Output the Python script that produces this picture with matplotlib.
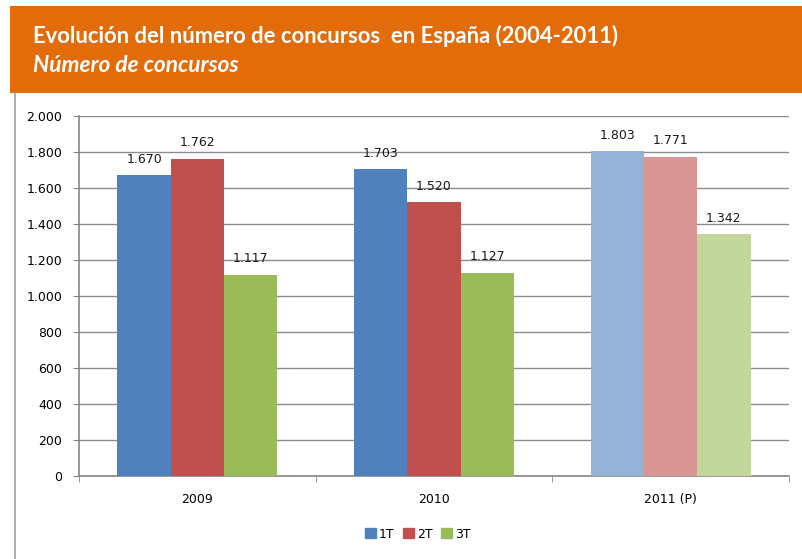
import matplotlib
matplotlib.use("Agg")
import matplotlib.pyplot as plt
import numpy as np
from matplotlib.patches import Rectangle
from matplotlib.lines import Line2D

categories = ["2009", "2010", "2011 (P)"]
series_names = ["1T", "2T", "3T"]
t1 = [1670, 1703, 1803]
t2 = [1762, 1520, 1771]
t3 = [1117, 1127, 1342]
yticks = [0, 200, 400, 600, 800, 1000, 1200, 1400, 1600, 1800, 2000]

base_colors = ["#4F81BD", "#C0504D", "#9BBB59"]
light_colors = ["#95B3D7", "#D99694", "#C3D69B"]

W, H = 802, 559
fig = plt.figure(figsize=(W / 100, H / 100), dpi=100)
fig.patch.set_facecolor("white")

# Header band
fig.patches.append(Rectangle((10 / W, 1 - 93 / H), (W - 10) / W, 87 / H,
                             transform=fig.transFigure, facecolor="#E36C0A",
                             edgecolor="none", zorder=0))
fig.text(33 / W, 1 - 36 / H, "Evolución del número de concursos  en España (2004-2011)",
         color="white", fontsize=15.8, fontweight="bold", family="Lato", va="center")
fig.text(33 / W, 1 - 66 / H, "Número de concursos", color="white", fontsize=16.3,
         fontweight="bold", style="italic", family="Lato", va="center")
# left frame line
fig.lines.append(Line2D([15 / W, 15 / W], [0, 1 - 93 / H], transform=fig.transFigure,
                        color="#A0A0A0", linewidth=1.2))

ax = fig.add_axes([79 / W, 1 - 476 / H, (789 - 79) / W, 360 / H])
x = np.arange(len(categories))
bw = 0.225
fs = 9.0
series = [t1, t2, t3]
for i, vals in enumerate(series):
    for j, v in enumerate(vals):
        col = light_colors[i] if j == 2 else base_colors[i]
        xpos = x[j] + (i - 1) * bw
        ax.bar(xpos, v, width=bw, color=col, edgecolor="none", zorder=3)
        ax.annotate(f"{v:,}".replace(",", "."), (xpos, v), xytext=(0, 7),
                    textcoords="offset points", ha="center", va="bottom",
                    fontsize=fs, color="#1a1a1a")

ax.set_xlim(-0.5, 2.5)
ax.set_ylim(0, 2000)
ax.set_yticks(yticks)
ax.set_yticklabels([f"{v:,}".replace(",", ".") for v in yticks], fontsize=fs)
ax.set_xticks(x)
ax.set_xticklabels(categories, fontsize=fs)
ax.tick_params(axis="x", length=0, pad=12)
ax.set_xticks([-0.5, 0.5, 1.5, 2.5], minor=True)
ax.tick_params(axis="x", which="minor", length=4, color="#868686", direction="out")
ax.tick_params(axis="y", length=4, color="#868686", direction="out", pad=8)
ax.grid(axis="y", color="#8C8C8C", linewidth=1, zorder=0)
for s in ["top", "right"]:
    ax.spines[s].set_visible(False)
for s in ["left", "bottom"]:
    ax.spines[s].set_color("#868686")
    ax.spines[s].set_linewidth(1.2)

handles = [Rectangle((0, 0), 1, 1, color=c) for c in base_colors]
fig.legend(handles, series_names, loc="center", bbox_to_anchor=(418 / W, 1 - 534 / H),
           ncol=3, frameon=False, fontsize=fs, handlelength=0.85, handleheight=0.85,
           handletextpad=0.25, columnspacing=0.7)

fig.savefig("out.png", dpi=100)
